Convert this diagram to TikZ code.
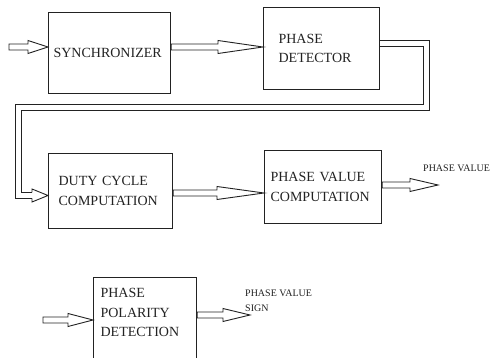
\documentclass[tikz,border=0pt]{standalone}
\usepackage{fontspec}
\setmainfont{Liberation Serif}
\usetikzlibrary{calc}
\definecolor{tinte}{HTML}{222222}
\tikzset{
  box/.style={draw=tinte,line width=1.2pt,anchor=north west,align=left,inner ysep=0pt,
    font=\fontsize{14}{19.5}\selectfont,text=tinte},
  hpfeil/.style={draw=tinte,line width=0.9pt,fill=white,line join=miter},
  rohr/.style={draw=tinte,line width=1pt,line join=miter},
  lbl/.style={inner sep=0pt,font=\fontsize{10}{15}\selectfont,text=tinte,align=left},
}
% hollow block arrow: start, tip, head length
\newcommand{\hpf}[3]{%
  \draw[hpfeil] let \p1=(#1), \p2=(#2) in
    (\x1,\y2+3pt) -- (\x2-#3pt,\y2+3pt) -- (\x2-#3pt,\y2+6.5pt) -- (\x2,\y2)
    -- (\x2-#3pt,\y2-6.5pt) -- (\x2-#3pt,\y2-3pt) -- (\x1,\y2-3pt) -- cycle;}

\begin{document}
\begin{tikzpicture}[x=1pt,y=-1pt]
  \useasboundingbox (0,0) rectangle (491,358);
  \clip (0,0) rectangle (491,358);

  \node[box,inner xsep=5pt,text width=112pt,minimum height=81pt] (sync) at (48,12) {SYNCHRONIZER};
  \node[box,inner xsep=15pt,text width=86pt,minimum height=82pt] (pd) at (263,7) {PHASE\\DETECTOR};
  \node[box,inner xsep=10pt,text width=104pt,minimum height=75pt] (duty) at (48,153) {DUTY CYCLE\\COMPUTATION};
  \node[box,inner xsep=6pt,text width=105pt,minimum height=73pt] (pvc) at (264,150) {PHASE VALUE\\COMPUTATION};
  \node[box,inner xsep=7pt,inner ysep=11pt,text width=89pt,text depth=120pt] (ppd) at (93,277) {PHASE\\POLARITY\\DETECTION};

  \node[lbl,anchor=west] (pvout) at (423,168) {PHASE VALUE};
  \node[lbl,anchor=north west] (sgn) at (245,290) {PHASE VALUE\\SIGN};

  \coordinate (in1) at (9,47);
  \coordinate (in2) at (43,320);
  \coordinate (out1) at (438,185);
  \coordinate (out2) at (250,315);
  \coordinate (fbs) at (379,43.5);
  \coordinate (fbo) at (426,43.5);
  \coordinate (fbr) at (426,108);
  \coordinate (fbl) at (18.5,108);
  \coordinate (fbu) at (18.5,195.5);
  \coordinate (fbh) at (32,195.5);

  \hpf{in1}{sync.west |- in1}{20}
  \hpf{sync.east}{$(pd.north west)+(0,40)$}{45}
  \hpf{duty.east}{$(pvc.north west)+(0,43)$}{47}
  \hpf{pvc.east}{out1}{28}
  \hpf{in2}{$(ppd.north west)+(0,43)$}{25}
  \hpf{ppd.east}{out2}{27}

  % feedback line, both walls
  \foreach \s/\t in {-3/3,3/-3}
    \draw[rohr] ($(fbs)+(0,\s)$) -- ($(fbo)+(\t,\s)$) -- ($(fbr)+(\t,\t)$)
      -- ($(fbl)+(\t,\t)$) -- ($(fbu)+(\t,\s)$) -- ($(fbh)+(0,\s)$);
  \draw[hpfeil] ($(fbh)+(0,-3)$) -- ($(fbh)+(0,-6.5)$) -- (duty.west |- fbh)
    -- ($(fbh)+(0,6.5)$) -- ($(fbh)+(0,3)$);
\end{tikzpicture}
\end{document}
